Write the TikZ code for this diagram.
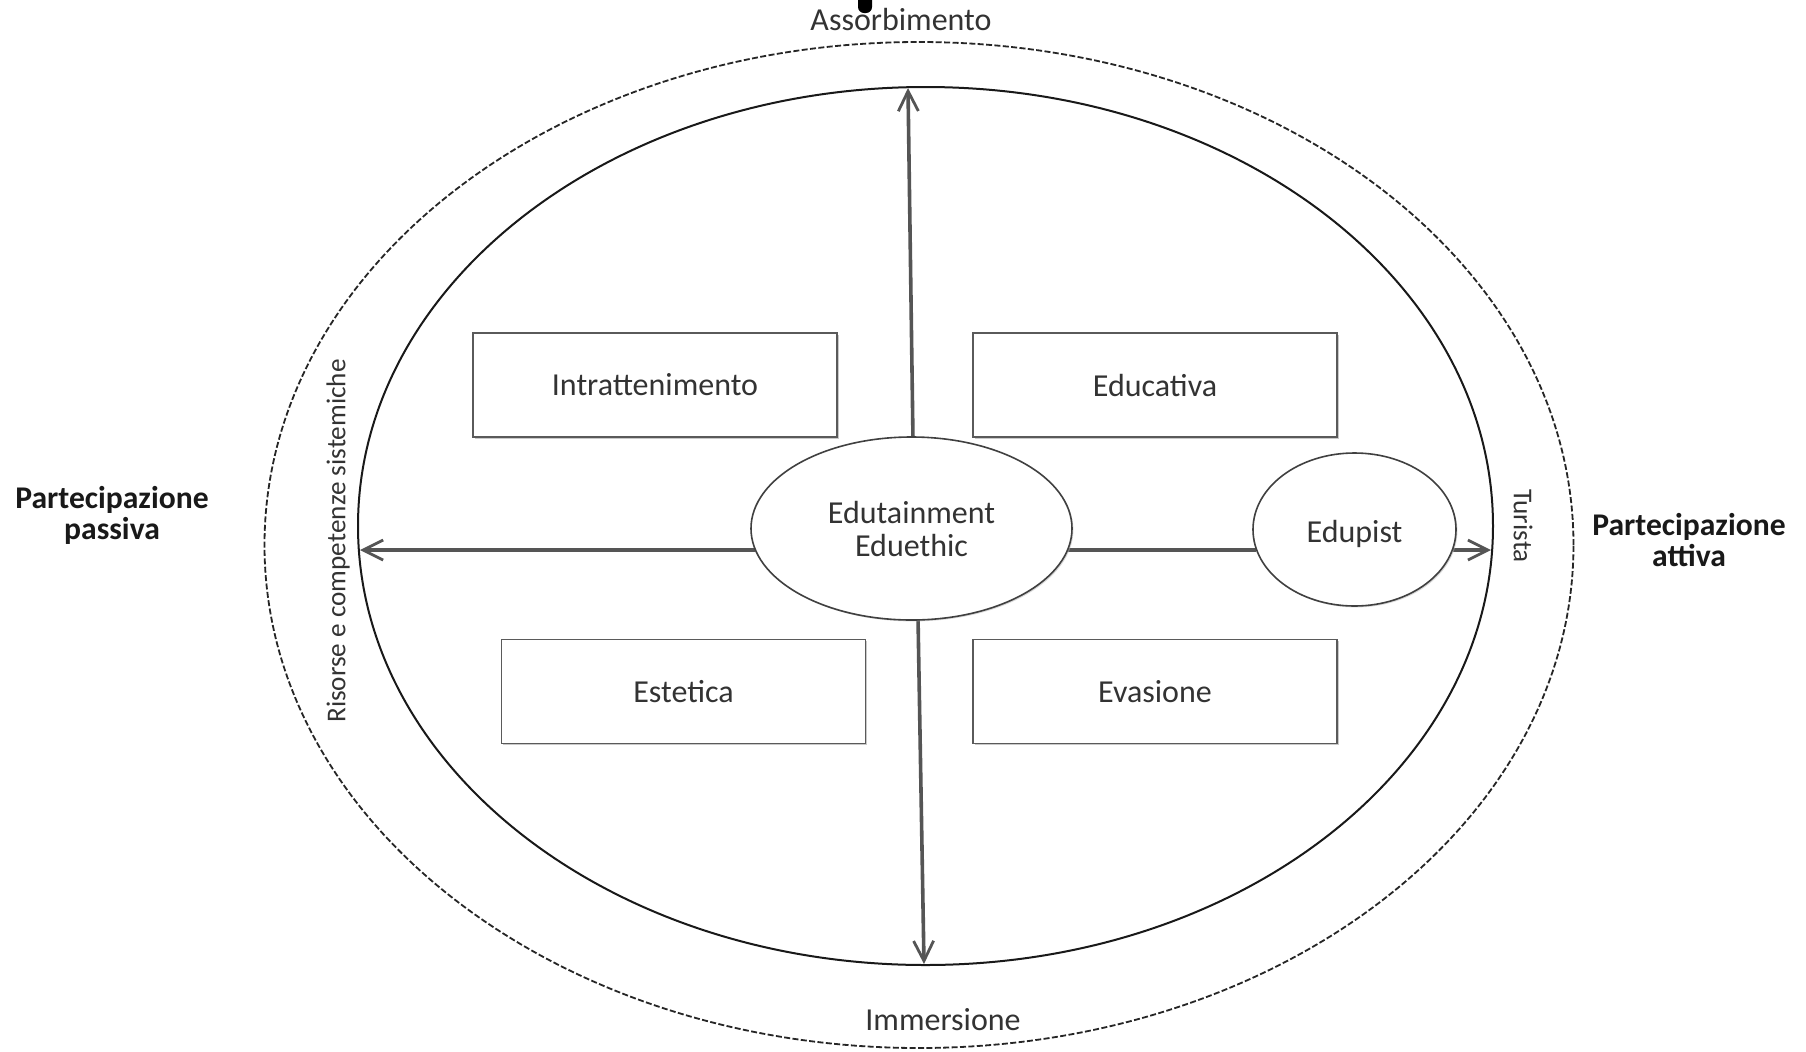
\documentclass[tikz,border=0pt]{standalone}
\usepackage{fontspec}
\setmainfont{Carlito}
\usetikzlibrary{shapes.geometric,arrows.meta,shadows}
\definecolor{txt}{HTML}{333333}
\definecolor{arr}{HTML}{555555}
\definecolor{boxline}{HTML}{5A5A5A}
\begin{document}
\begin{tikzpicture}[x=0.5pt,y=-0.5pt,
  every node/.style={inner sep=0pt, outer sep=0pt},
  lbl/.style={font=\fontsize{16}{16.5}\selectfont, text=txt, align=center},
  vlbl/.style={font=\fontsize{13.6}{15}\selectfont, text=txt},
  boldlbl/.style={font=\fontsize{15.8}{15.5}\bfseries\selectfont, text=black!90, align=center},
  quad/.style={draw=boxline, line width=0.95pt, fill=white, minimum width=182pt, minimum height=52pt, lbl,
    drop shadow={shadow xshift=0.9pt, shadow yshift=-0.9pt, fill=black!35, opacity=0.6}},
  oval/.style={ellipse, draw=black!75, line width=0.8pt, fill=white, lbl,
    drop shadow={shadow xshift=0.7pt, shadow yshift=-0.7pt, fill=black!30, opacity=0.5}},
  axis/.style={draw=arr, line width=1.8pt},
  axisarrow/.style={axis, -{Straight Barb[length=10pt,width=10pt,line width=1.4pt]}},
]
\useasboundingbox (0,0) rectangle (1806,1051);
\fill[white] (0,0) rectangle (1806,1051);

% outer dashed ellipse and inner ellipse
\node[ellipse, draw=black!85, line width=0.9pt, dash pattern=on 3pt off 1.2pt,
      minimum width=654.5pt, minimum height=503pt] (outer) at (919,545) {};
\node[ellipse, draw=black!90, line width=1pt,
      minimum width=567.5pt, minimum height=439pt] (inner) at (925.5,526) {};

% axis coordinates
\coordinate (vtopS) at (913,440);
\coordinate (vtopE) at (908,88);
\coordinate (vbotS) at (918,617);
\coordinate (vbotE) at (924,964);
\coordinate (hlS) at (755,550);
\coordinate (hlE) at (360,550);
\coordinate (hrS) at (1068,550);
\coordinate (hrM) at (1256,550);
\coordinate (hrN) at (1453,550);
\coordinate (hrE) at (1491,550);

\draw[axisarrow] (vtopS) -- (vtopE);
\draw[axisarrow] (vbotS) -- (vbotE);
\draw[axisarrow] (hlS) -- (hlE);
\draw[axis] (hrS) -- (hrM);
\draw[axisarrow] (hrN) -- (hrE);

% boxes
\node[quad] (intr) at (655,385) {Intrattenimento};
\node[quad] (educ) at (1155,385) {Educativa};
\node[quad] (este) at (683.5,691.5) {Estetica};
\node[quad] (evas) at (1155,691.5) {Evasione};

% central ellipses
\node[oval, minimum width=160.5pt, minimum height=91.5pt] (edu) at (911.5,528.5) {Edutainment\\Eduethic};
\node[oval, minimum width=101.5pt, minimum height=76.5pt] (edupist) at (1354.5,529.5) {};
\node[lbl] (edupistlabel) at (1354.5,534) {Edupist};

% axis labels
\node[lbl, anchor=base] (assorb) at (901,30) {Assorbimento};
\node[lbl, anchor=base] (immers) at (943,1030) {Immersione};
\node[vlbl, rotate=90] (risorse) at (338,541) {Risorse e competenze sistemiche};
\node[vlbl, rotate=-90] (turista) at (1523,526) {Turista};

\node[boldlbl] (passiva) at (112,515) {Partecipazione\\passiva};
\node[boldlbl] (attiva) at (1689,540) {Partecipazione\\attiva};

% small dark mark at the top edge
\fill[black, rounded corners=3pt] (858,-6) rectangle (872,13);
\end{tikzpicture}
\end{document}
